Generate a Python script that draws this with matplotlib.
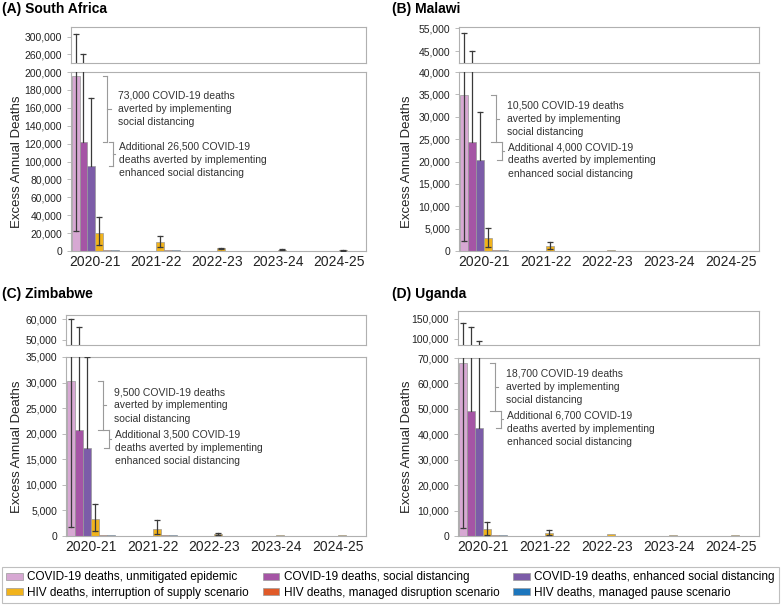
import numpy as np
import matplotlib.pyplot as plt
from matplotlib.patches import Patch

plt.rcParams['font.family'] = ['Liberation Sans', 'DejaVu Sans']

years = ["2020-21", "2021-22", "2022-23", "2023-24", "2024-25"]
series_names = ["COVID-19 deaths, unmitigated epidemic",
                "COVID-19 deaths, social distancing",
                "COVID-19 deaths, enhanced social distancing",
                "HIV deaths, interruption of supply scenario",
                "HIV deaths, managed disruption scenario",
                "HIV deaths, managed pause scenario"]
colors = ["#d7a8d3", "#a555a5", "#7c5ca8", "#f1b31c", "#e05a28", "#1c76bd"]

# values per series: unmitigated, SD, enhanced SD, HIV interruption, HIV disruption, HIV pause
south_africa = [[195000, 0, 0, 0, 0],
                [122000, 0, 0, 0, 0],
                [95500, 0, 0, 0, 0],
                [20000, 9500, 2800, 1200, 900],
                [1600, 800, 500, 400, 400],
                [1500, 600, 400, 300, 300]]
south_africa_lo = [[22000, None, None, None, None],
                   [None] * 5,
                   [None] * 5,
                   [7000, 4000, 1800, 700, 500],
                   [None] * 5, [None] * 5]
south_africa_hi = [[305000, None, None, None, None],
                   [260000, None, None, None, None],
                   [171000, None, None, None, None],
                   [38000, 17000, 3900, 1700, 1300],
                   [None] * 5, [None] * 5]

malawi = [[34800, 0, 0, 0, 0],
          [24300, 0, 0, 0, 0],
          [20300, 0, 0, 0, 0],
          [2800, 1200, 250, 100, 80],
          [200, 80, 50, 40, 30],
          [200, 80, 50, 40, 30]]
malawi_lo = [[2300, None, None, None, None],
             [None] * 5,
             [None] * 5,
             [900, 500, None, None, None],
             [None] * 5, [None] * 5]
malawi_hi = [[53000, None, None, None, None],
             [45000, None, None, None, None],
             [31000, None, None, None, None],
             [5200, 2000, None, None, None],
             [None] * 5, [None] * 5]

zimbabwe = [[30300, 0, 0, 0, 0],
            [20800, 0, 0, 0, 0],
            [17300, 0, 0, 0, 0],
            [3300, 1400, 350, 150, 120],
            [200, 100, 60, 50, 40],
            [200, 100, 60, 50, 40]]
zimbabwe_lo = [[1700, None, None, None, None],
               [None] * 5,
               [None] * 5,
               [1000, 300, 200, None, None],
               [None] * 5, [None] * 5]
zimbabwe_hi = [[60000, None, None, None, None],
               [56000, None, None, None, None],
               [35000, None, None, None, None],
               [6300, 3200, 500, None, None],
               [None] * 5, [None] * 5]

uganda = [[68000, 0, 0, 0, 0],
          [49300, 0, 0, 0, 0],
          [42600, 0, 0, 0, 0],
          [2700, 1200, 600, 300, 200],
          [300, 150, 100, 80, 60],
          [300, 150, 100, 80, 60]]
uganda_lo = [[3000, None, None, None, None],
             [None] * 5,
             [None] * 5,
             [500, 500, None, None, None],
             [None] * 5, [None] * 5]
uganda_hi = [[140000, None, None, None, None],
             [130000, None, None, None, None],
             [95000, None, None, None, None],
             [5500, 2300, None, None, None],
             [None] * 5, [None] * 5]

W, H = 781, 605
fig = plt.figure(figsize=(W / 100, H / 100), dpi=100)


def px_axes(left, top, right, bottom):
    return fig.add_axes([left / W, 1 - bottom / H, (right - left) / W, (bottom - top) / H])


def style(ax):
    for s in ax.spines.values():
        s.set_color("#b0b0b0")
        s.set_linewidth(0.8)
    ax.tick_params(axis="y", labelsize=7.5, length=3, width=0.6, color="#b0b0b0", pad=3.5, labelcolor="#222")
    ax.tick_params(axis="x", length=0, labelsize=10, pad=3, labelcolor="#222")
    ax.set_xlim(-0.40, 4.45)


def bracket(ax, x, y1, y2, cap, tick):
    c = "#9a9a9a"
    ax.plot([x, x], [y2, y1], color=c, lw=0.8)
    ax.plot([x - cap, x], [y1, y1], color=c, lw=0.8)
    ax.plot([x - cap, x], [y2, y2], color=c, lw=0.8)
    ym = (y1 + y2) / 2
    ax.plot([x, x + tick], [ym, ym], color=c, lw=0.8)


def panel(box_top, box_bot, title, title_xy, values, lo, hi, top_lim, top_ticks,
          bot_lim, bot_ticks, notes):
    ax_t = px_axes(*box_top)
    ax_b = px_axes(*box_bot)
    x = np.arange(len(years))
    w = 0.13
    for ax in (ax_t, ax_b):
        style(ax)
        for j in range(6):
            xs = x - 0.39 + w * (j + 0.5)
            ax.bar(xs, values[j], w, color=colors[j], edgecolor="#9a9a9a", linewidth=0.5, zorder=2)
            for i in range(len(years)):
                if hi[j][i] is None:
                    continue
                low = lo[j][i] if lo[j][i] is not None else values[j][i]
                ax.plot([xs[i], xs[i]], [low, hi[j][i]], color="#3a3a3a", lw=0.9, zorder=3)
                ax.plot([xs[i]], [hi[j][i]], marker="_", ms=4, mew=0.9, color="#3a3a3a", zorder=3)
                if lo[j][i] is not None:
                    ax.plot([xs[i]], [lo[j][i]], marker="_", ms=4, mew=0.9, color="#3a3a3a", zorder=3)
    ax_t.set_ylim(*top_lim)
    ax_t.set_yticks(top_ticks)
    ax_t.set_xticks([])
    ax_b.set_ylim(*bot_lim)
    ax_b.set_yticks(bot_ticks)
    ax_t.yaxis.set_major_formatter(plt.FuncFormatter(lambda v, p: f"{v:,.0f}"))
    ax_b.yaxis.set_major_formatter(plt.FuncFormatter(lambda v, p: f"{v:,.0f}"))
    ax_b.set_xticks(x)
    ax_b.set_xticklabels(years)
    ax_b.set_ylabel("Excess Annual Deaths", fontsize=9.5, color="#222")
    ax_b.yaxis.set_label_coords((title_xy[0] + 21 - box_bot[0]) / (box_bot[2] - box_bot[0]), 0.5)

    unmit, sd, esd = values[0][0], values[1][0], values[2][0]
    bracket(ax_b, 0.20, unmit, sd, 0.08, 0.05)
    bracket(ax_b, 0.29, sd, esd, 0.07, 0.04)
    ax_b.text(0.37, (unmit + sd) / 2, notes[0], fontsize=7.5, va="center", ha="left",
              color="#333", linespacing=1.4)
    ax_b.text(0.39, sd, notes[1], fontsize=7.5, va="top", ha="left",
              color="#333", linespacing=1.4)
    fig.text(title_xy[0] / W, 1 - title_xy[1] / H, title, fontsize=10, fontweight="bold",
             va="center", ha="left")


panel((71, 27, 366, 63), (71, 72, 366, 251), "(A) South Africa", (2, 9),
      south_africa, south_africa_lo, south_africa_hi,
      (240000, 322000), [260000, 300000], (0, 200000), np.arange(0, 200001, 20000),
      ["73,000 COVID-19 deaths\naverted by implementing\nsocial distancing",
       "Additional 26,500 COVID-19\ndeaths averted by implementing\nenhanced social distancing"])
panel((459, 27, 759, 63), (459, 72, 759, 251), "(B) Malawi", (392, 9),
      malawi, malawi_lo, malawi_hi,
      (39800, 55500), [45000, 55000], (0, 40000), np.arange(0, 40001, 5000),
      ["10,500 COVID-19 deaths\naverted by implementing\nsocial distancing",
       "Additional 4,000 COVID-19\ndeaths averted by implementing\nenhanced social distancing"])
panel((66, 315, 366, 345), (66, 357, 366, 536), "(C) Zimbabwe", (2, 294),
      zimbabwe, zimbabwe_lo, zimbabwe_hi,
      (47500, 62000), [50000, 60000], (0, 35000), np.arange(0, 35001, 5000),
      ["9,500 COVID-19 deaths\naverted by implementing\nsocial distancing",
       "Additional 3,500 COVID-19\ndeaths averted by implementing\nenhanced social distancing"])
panel((458, 311, 759, 345), (458, 358, 759, 536), "(D) Uganda", (392, 294),
      uganda, uganda_lo, uganda_hi,
      (85000, 170000), [100000, 150000], (0, 70000), np.arange(0, 70001, 10000),
      ["18,700 COVID-19 deaths\naverted by implementing\nsocial distancing",
       "Additional 6,700 COVID-19\ndeaths averted by implementing\nenhanced social distancing"])

handles = [Patch(facecolor=c, edgecolor="#9a9a9a", linewidth=0.5) for c in colors]
order = [0, 3, 1, 4, 2, 5]
leg = fig.legend([handles[i] for i in order], [series_names[i] for i in order],
                 loc="lower left", bbox_to_anchor=(2 / W, 2 / H, 777 / W, 35 / H),
                 mode="expand", ncol=3, fontsize=8.5, frameon=True, fancybox=False,
                 handlelength=1.4, handleheight=0.5, handletextpad=0.4,
                 borderpad=0.35, labelspacing=0.3, borderaxespad=0)
leg.get_frame().set_edgecolor("#b0b0b0")
leg.get_frame().set_linewidth(0.8)

fig.savefig("out.png", dpi=100)
